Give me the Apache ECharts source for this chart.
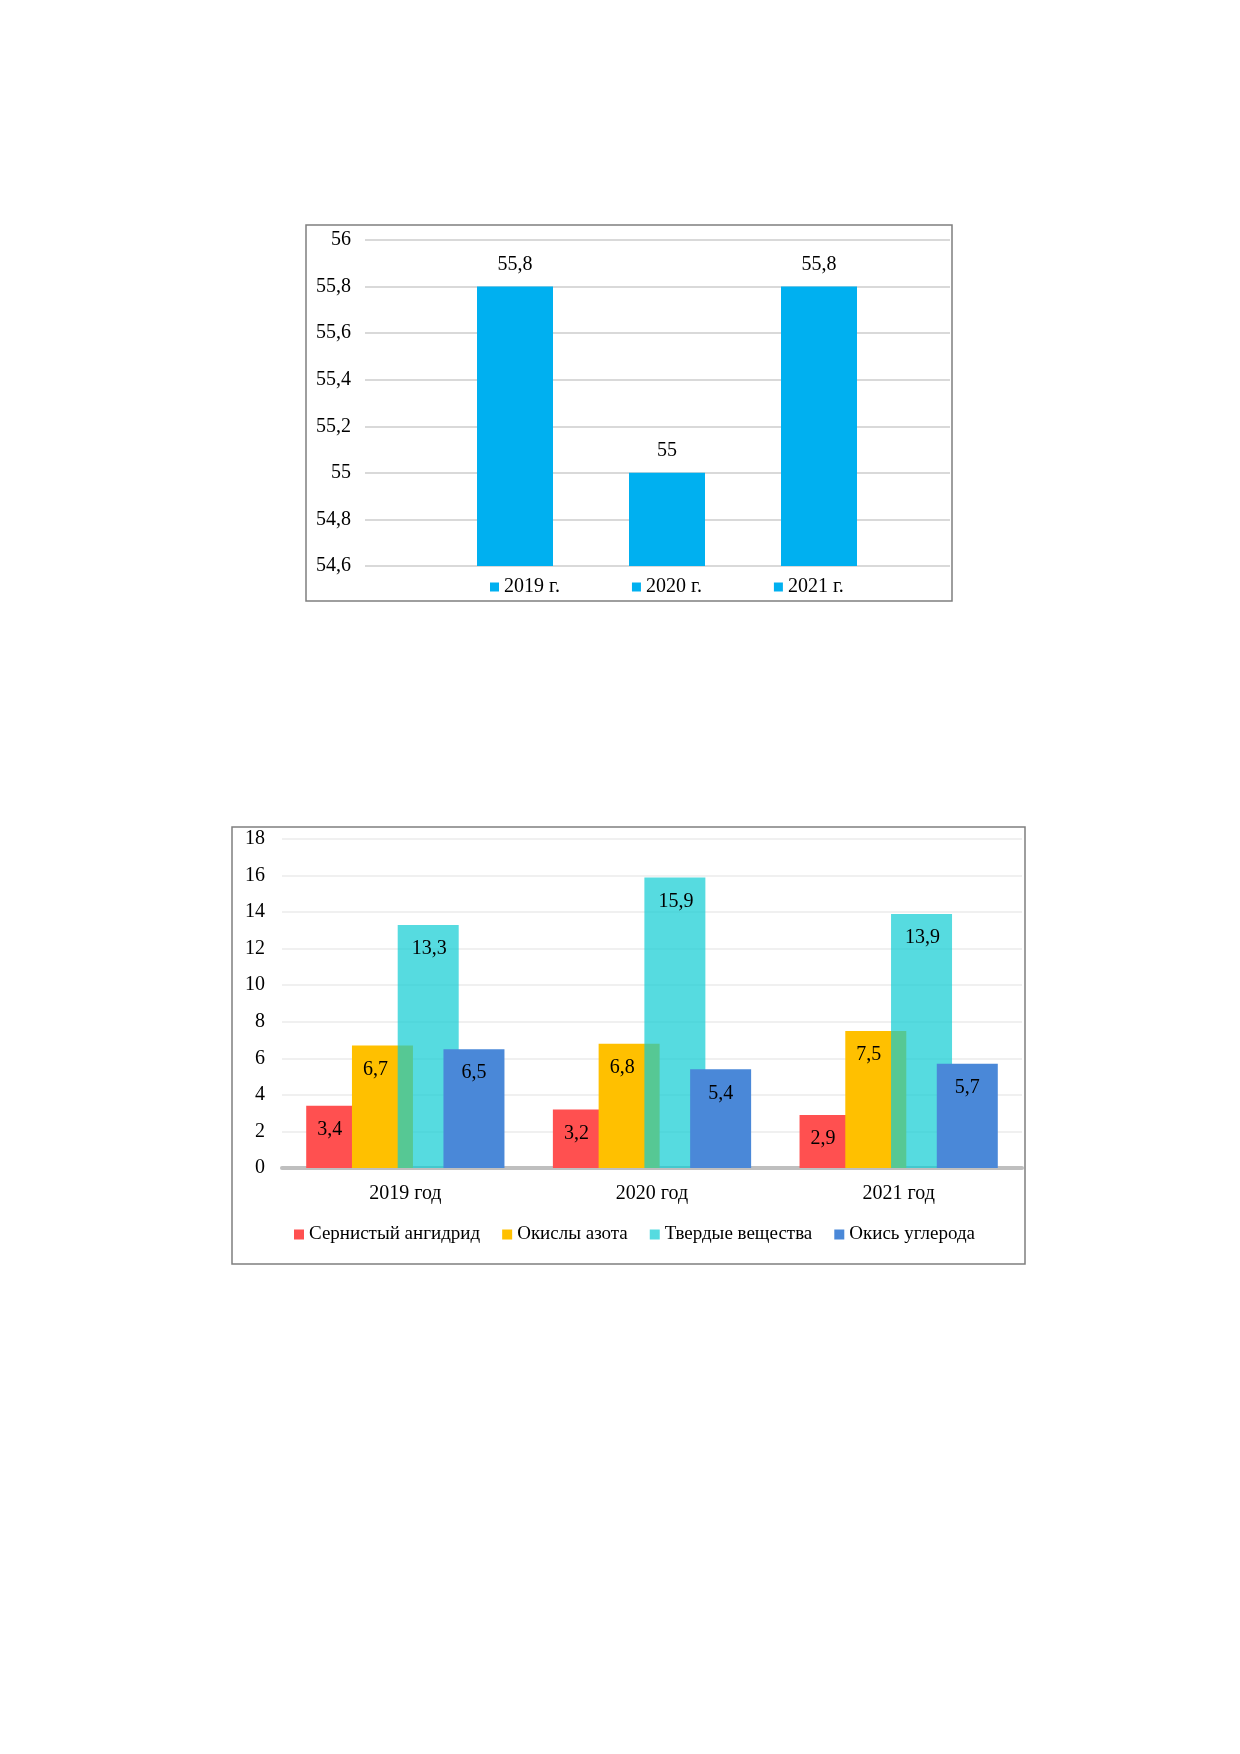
<!DOCTYPE html>
<html>
<head>
<meta charset="utf-8">
<script src="https://cdn.jsdelivr.net/npm/echarts@6/dist/echarts.min.js"></script>
<style>
html,body{margin:0;padding:0;background:#fff;}
#chart{width:1240px;height:1754px;}
</style>
</head>
<body>
<div id="chart"></div>
<script>
// ---- Chart 1 data ----
const years1 = ['2019 г.', '2020 г.', '2021 г.'];
const values1 = [55.8, 55, 55.8];
const yMin1 = 54.6, yMax1 = 56, yStep1 = 0.2;

// ---- Chart 2 data ----
const categories2 = ['2019 год', '2020 год', '2021 год'];
const seriesNames2 = ['Сернистый ангидрид', 'Окислы азота', 'Твердые вещества', 'Окись углерода'];
const sulfurDioxide = [3.4, 3.2, 2.9];
const nitrogenOxides = [6.7, 6.8, 7.5];
const solids = [13.3, 15.9, 13.9];
const carbonMonoxide = [6.5, 5.4, 5.7];
const yMin2 = 0, yMax2 = 18, yStep2 = 2;

const FONT = "'Liberation Serif', 'Times New Roman', serif";
const comma = v => String(Math.round(v * 10) / 10).replace('.', ',');

const chart = echarts.init(document.getElementById('chart'), null, {renderer: 'canvas'});

const series1 = years1.map((name, i) => ({
  name: name,
  type: 'bar',
  xAxisIndex: 1,
  yAxisIndex: 1,
  data: values1.map((v, j) => (j === i ? v : '-')),
  barWidth: 76,
  barGap: '-100%',
  itemStyle: {color: '#00B0F0'},
  label: {
    show: true, position: 'top', distance: 12,
    fontFamily: FONT, fontSize: 20, color: '#000',
    formatter: p => comma(p.value)
  }
}));

const colors2 = ['#FF5050', '#FFC000', 'rgba(14,204,211,0.7)', '#4A88D8'];
const legendColors2 = ['#FF5050', '#FFC000', '#56DBE0', '#4A88D8'];
const data2 = [sulfurDioxide, nitrogenOxides, solids, carbonMonoxide];
const offsets2 = [[-7, 0], [-7, 0], [1, 0], [0, 0]];

const series2 = seriesNames2.map((name, i) => ({
  name: name,
  type: 'bar',
  xAxisIndex: 2,
  yAxisIndex: 2,
  data: data2[i],
  barWidth: 61,
  barGap: '-25%',
  itemStyle: {color: colors2[i]},
  label: {
    show: true, position: 'insideTop', distance: 14, offset: offsets2[i],
    fontFamily: FONT, fontSize: 20, color: '#000',
    formatter: p => comma(p.value)
  }
}));

const option = {
  backgroundColor: '#fff',
  animation: false,
  textStyle: {fontFamily: FONT},
  color: legendColors2,
  graphic: [
    {type: 'rect', shape: {x: 306, y: 225, width: 646, height: 376},
     style: {fill: 'none', stroke: '#7f7f7f', lineWidth: 1.5}, z: 0},
    {type: 'rect', shape: {x: 232, y: 827, width: 793, height: 437},
     style: {fill: 'none', stroke: '#7f7f7f', lineWidth: 1.5}, z: 0}
  ],
  legend: [
    {
      data: years1,
      left: 485, top: 572,
      itemWidth: 9, itemHeight: 9, itemGap: 72,
      icon: 'rect',
      textStyle: {fontFamily: FONT, fontSize: 20, color: '#000'}
    },
    {
      data: seriesNames2.map((n, i) => ({name: n, itemStyle: {color: legendColors2[i]}})),
      left: 289, top: 1220,
      itemWidth: 10, itemHeight: 10, itemGap: 22,
      icon: 'rect',
      textStyle: {fontFamily: FONT, fontSize: 19, color: '#000'}
    }
  ],
  grid: [
    {left: 365, top: 240, width: 585, height: 326},
    {left: 439, top: 240, width: 456, height: 326},
    {left: 282, top: 839, width: 740, height: 329}
  ],
  xAxis: [
    {gridIndex: 0, type: 'category', data: [''], show: false},
    {gridIndex: 1, type: 'category', data: years1, show: false},
    {gridIndex: 2, type: 'category', data: categories2,
     axisLine: {show: true, lineStyle: {color: '#bfbfbf', width: 4}},
     axisTick: {show: false},
     axisLabel: {fontFamily: FONT, fontSize: 20, color: '#000', margin: 16}}
  ],
  yAxis: [
    {gridIndex: 0, type: 'value', min: yMin1, max: yMax1, interval: yStep1,
     axisLine: {show: false}, axisTick: {show: false},
     splitLine: {show: true, lineStyle: {color: '#d9d9d9', width: 2}},
     axisLabel: {fontFamily: FONT, fontSize: 20, color: '#000', margin: 14, formatter: comma}},
    {gridIndex: 1, type: 'value', min: yMin1, max: yMax1, interval: yStep1, show: false,
     splitLine: {show: false}},
    {gridIndex: 2, type: 'value', min: yMin2, max: yMax2, interval: yStep2,
     axisLine: {show: false}, axisTick: {show: false},
     splitLine: {show: true, lineStyle: {color: '#ebebeb', width: 1.5}},
     axisLabel: {fontFamily: FONT, fontSize: 20, color: '#000', margin: 17, formatter: comma}}
  ],
  series: series1.concat(series2)
};

chart.setOption(option);
</script>
</body>
</html>
